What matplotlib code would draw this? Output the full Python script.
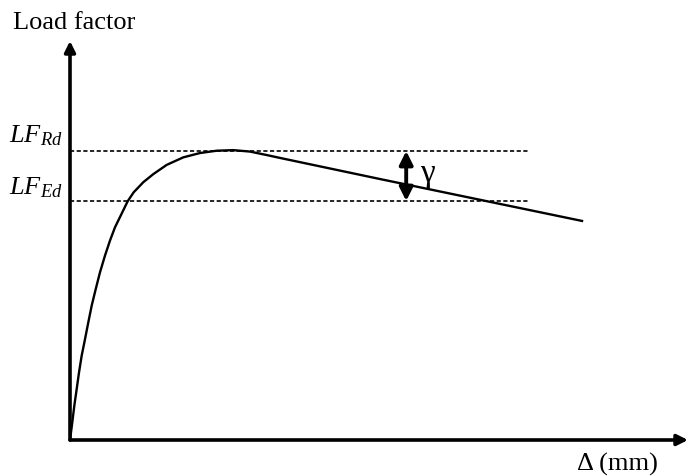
import matplotlib
matplotlib.use("Agg")
import matplotlib.pyplot as plt

plt.rcParams['font.family'] = ['Liberation Serif', 'DejaVu Serif']
plt.rcParams['mathtext.fontset'] = 'custom'
plt.rcParams['mathtext.it'] = 'Liberation Serif:italic'
plt.rcParams['mathtext.rm'] = 'Liberation Serif'

# curve (delta, load factor)
delta = [0.0, 0.037, 0.070, 0.108, 0.146, 0.189, 0.243, 0.296, 0.351, 0.416,
         0.485, 0.566, 0.647, 0.728, 0.833, 0.933, 1.030, 1.186, 1.348, 1.565,
         1.833, 2.104, 2.374, 2.642, 2.913, 3.183, 3.398, 5.016, 8.285]
load = [0.0, 0.061, 0.119, 0.176, 0.234, 0.292, 0.349, 0.407, 0.465, 0.522,
        0.580, 0.638, 0.690, 0.736, 0.782, 0.826, 0.857, 0.892, 0.920, 0.952,
        0.978, 0.993, 1.001, 1.003, 0.998, 0.986, 0.976, 0.903, 0.758]

lf_rd = 1.0
lf_ed = 0.827
dash_end = 7.41
gamma_x = 5.44

W, H = 689, 477
fig = plt.figure(figsize=(W / 100, H / 100), dpi=100)
ax = fig.add_axes([70 / W, 36 / H, 618 / W, 399 / H])
ax.set_xlim(0, 10)
ax.set_ylim(0, 399 / 289)
ax.axis('off')

# axes with arrow heads
ax.annotate('', xy=(1, 0), xytext=(0, 0), xycoords='axes fraction',
            arrowprops=dict(arrowstyle='-|>', lw=2.6, color='black',
                            mutation_scale=16, shrinkA=0, shrinkB=0))
ax.annotate('', xy=(0, 1), xytext=(0, 0), xycoords='axes fraction',
            arrowprops=dict(arrowstyle='-|>', lw=2.6, color='black',
                            mutation_scale=16, shrinkA=0, shrinkB=0))

ax.plot(delta, load, color='black', lw=1.7, solid_joinstyle='round')

ax.plot([0, dash_end], [lf_rd, lf_rd], color='black', lw=1.2, ls=(0, (2.5, 1.5)))
ax.plot([0, dash_end], [lf_ed, lf_ed], color='black', lw=1.2, ls=(0, (2.5, 1.5)))

ax.annotate('', xy=(gamma_x, lf_rd), xytext=(gamma_x, lf_ed),
            arrowprops=dict(arrowstyle='<|-|>', lw=2.8, color='black',
                            mutation_scale=20, shrinkA=0, shrinkB=0))
ax.text(gamma_x + 0.22, (lf_rd + lf_ed) / 2 + 0.01, 'γ', fontsize=24,
        ha='left', va='center')

fig.text(13 / W, 1 - 29 / H, 'Load factor', fontsize=19, va='baseline')
fig.text(577 / W, 1 - 471 / H, 'Δ (mm)', fontsize=19, va='baseline')
fig.text(9 / W, 1 - 142 / H, r'$LF_{Rd}$', fontsize=19, va='baseline')
fig.text(9 / W, 1 - 194 / H, r'$LF_{Ed}$', fontsize=19, va='baseline')

fig.savefig('out.png', dpi=100)
